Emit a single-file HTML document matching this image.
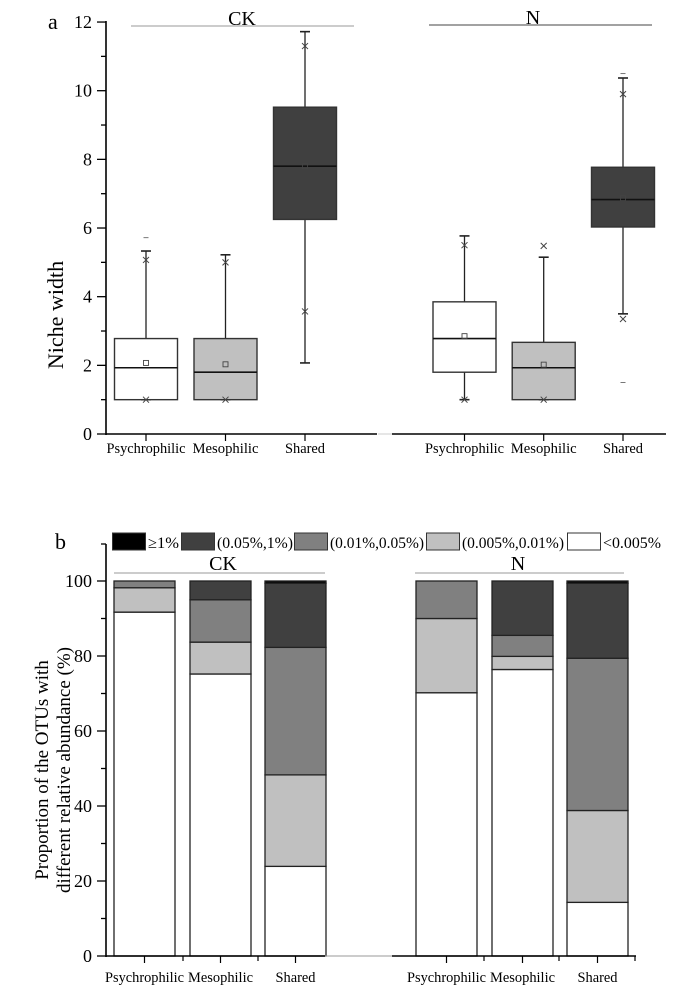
<!DOCTYPE html>
<html><head><meta charset="utf-8"><style>
html,body{margin:0;padding:0;background:#fff;}
svg{display:block;font-family:"Liberation Serif",serif;}
</style></head><body>
<svg id="chart" width="676" height="993" viewBox="0 0 676 993" xmlns="http://www.w3.org/2000/svg"></svg>
<script>
// ---------- Panel a: box plot data ----------
const boxCategories = ["Psychrophilic","Mesophilic","Shared","Psychrophilic","Mesophilic","Shared"];
const boxQ1 = [1.0, 1.0, 6.25, 1.8, 1.0, 6.03];
const boxMedian = [1.93, 1.8, 7.8, 2.78, 1.93, 6.83];
const boxQ3 = [2.78, 2.78, 9.52, 3.85, 2.67, 7.77];
const boxMean = [2.07, 2.03, 7.8, 2.85, 2.02, 6.87];
const boxWhiskLow = [1.0, 1.0, 2.07, 1.0, 1.0, 3.5];
const boxWhiskHigh = [5.33, 5.22, 11.72, 5.77, 5.15, 10.37];
const boxP99 = [5.07, 5.0, 11.3, 5.5, 5.48, 9.9];
const boxP1 = [1.0, 1.0, 3.57, 1.0, 1.0, 3.35];
const boxMax = [5.72, null, null, null, null, 10.5];
const boxMin = [null, null, null, null, null, 1.5];
const boxFills = ["#ffffff","#c0c0c0","#404040","#ffffff","#c0c0c0","#404040"];
const boxYTicks = [0,2,4,6,8,10,12];

// ---------- Panel b: stacked bar data ----------
const barCategories = ["Psychrophilic","Mesophilic","Shared","Psychrophilic","Mesophilic","Shared"];
const seriesNames = ["<0.005%","(0.005%,0.01%)","(0.01%,0.05%)","(0.05%,1%)","≥1%"];
const sLt0005 = [91.7, 75.2, 23.9, 70.2, 76.4, 14.3];
const s0005_001 = [6.5, 8.5, 24.4, 19.8, 3.5, 24.5];
const s001_005 = [1.8, 11.3, 34.0, 10.0, 5.6, 40.6];
const s005_1 = [0, 5.0, 17.1, 0, 14.5, 20.0];
const sGe1 = [0, 0, 0.6, 0, 0, 0.6];
const barYTicks = [0,20,40,60,80,100];

const svg = document.getElementById('chart');
const NS = "http://www.w3.org/2000/svg";
function mk(tag, attrs, parent){
  const e = document.createElementNS(NS, tag);
  for (const k in attrs) e.setAttribute(k, attrs[k]);
  (parent||svg).appendChild(e);
  return e;
}
function txt(s, attrs, parent){ const e = mk('text', attrs, parent); e.textContent = s; return e; }

// ===== Panel a =====
const ga = mk('g', {});


const ay = v => 434 - v * 34.33;
const boxX = [146, 225.5, 305, 464.5, 543.7, 623];
const bw = 63;

let t = txt('a', {x:48, y:29, 'font-size':22}, ga);
 
t = txt('Niche width', {x:0,y:0,'font-size':22,'text-anchor':'middle',transform:'translate(63,315) rotate(-90)'}, ga);
 

t = txt('CK', {x:242, y:25, 'font-size':20, 'text-anchor':'middle'}, ga);
 
mk('line',{x1:131,y1:26,x2:354,y2:26,stroke:'#999','stroke-width':1},ga);
t = txt('N', {x:533, y:24, 'font-size':20, 'text-anchor':'middle'}, ga);
 
mk('line',{x1:429,y1:25,x2:652,y2:25,stroke:'#444','stroke-width':1},ga);

const axA = mk('g',{},ga);
 
mk('line',{x1:106,y1:ay(12)-1,x2:106,y2:ay(0)+1,stroke:'#000','stroke-width':1.6},axA);
for (let v=0; v<=12; v++){
  const major = v%2===0;
  mk('line',{x1:major?97:101,y1:ay(v),x2:106,y2:ay(v),stroke:'#000','stroke-width':1.3},axA);
}
boxYTicks.forEach(v=>{
  const e = txt(String(v),{x:92,y:ay(v)+6,'font-size':18,'text-anchor':'end'},axA);
   
});
const xaA = mk('g',{},ga);
 
mk('line',{x1:106,y1:ay(0),x2:377,y2:ay(0),stroke:'#000','stroke-width':1.6},xaA);
mk('line',{x1:378,y1:ay(0),x2:392,y2:ay(0),stroke:'#ccc','stroke-width':1},xaA);
mk('line',{x1:392,y1:ay(0),x2:666,y2:ay(0),stroke:'#000','stroke-width':1.6},xaA);

boxCategories.forEach((c,i)=>{
  const cx = boxX[i];
  const g = mk('g',{},ga);
  
  
  mk('line',{x1:cx,y1:ay(0),x2:cx,y2:ay(0)+7,stroke:'#000','stroke-width':1.2},g);
  mk('line',{x1:cx,y1:ay(boxWhiskHigh[i]),x2:cx,y2:ay(boxQ3[i]),stroke:'#222','stroke-width':1.3},g);
  mk('line',{x1:cx,y1:ay(boxQ1[i]),x2:cx,y2:ay(boxWhiskLow[i]),stroke:'#222','stroke-width':1.3},g);
  mk('line',{x1:cx-5,y1:ay(boxWhiskHigh[i]),x2:cx+5,y2:ay(boxWhiskHigh[i]),stroke:'#222','stroke-width':1.6},g);
  mk('line',{x1:cx-5,y1:ay(boxWhiskLow[i]),x2:cx+5,y2:ay(boxWhiskLow[i]),stroke:'#222','stroke-width':1.6},g);
  mk('rect',{x:cx-bw/2,y:ay(boxQ3[i]),width:bw,height:ay(boxQ1[i])-ay(boxQ3[i]),fill:boxFills[i],stroke:'#333','stroke-width':1.4},g);
  mk('line',{x1:cx-bw/2,y1:ay(boxMedian[i]),x2:cx+bw/2,y2:ay(boxMedian[i]),stroke:'#111','stroke-width':1.6},g);
  mk('rect',{x:cx-2.5,y:ay(boxMean[i])-2.5,width:5,height:5,fill:'none',stroke:'#444','stroke-width':0.9},g);
  [boxP99[i],boxP1[i]].forEach(v=>{
    const y=ay(v);
    mk('path',{d:`M${cx-3} ${y-3}L${cx+3} ${y+3}M${cx+3} ${y-3}L${cx-3} ${y+3}`,stroke:'#444','stroke-width':1},g);
  });
  [boxMax[i],boxMin[i]].forEach(v=>{
    if(v===null) return;
    mk('line',{x1:cx-2.5,y1:ay(v),x2:cx+2.5,y2:ay(v),stroke:'#777','stroke-width':1},g);
  });
  const l = txt(c,{x:cx,y:453,'font-size':15,'text-anchor':'middle',textLength:c==='Psychrophilic'?79:(c==='Mesophilic'?66:40),lengthAdjust:'spacingAndGlyphs'},g);
   
});

// ===== Panel b =====
const gb = mk('g',{});


const by = v => 956 - v*3.75;
const barX = [114, 190, 265, 416, 492, 567];
const barW = 61;
const seriesVals = [sLt0005, s0005_001, s001_005, s005_1, sGe1];
const seriesFills = ["#ffffff","#c0c0c0","#808080","#404040","#000000"];

t = txt('b',{x:55,y:549,'font-size':22},gb);
 
const yt = mk('text',{x:0,y:0,'font-size':19,'text-anchor':'middle',transform:'translate(0,770) rotate(-90)'},gb);
 
const ts1 = mk('tspan',{x:0,y:48},yt); ts1.textContent='Proportion of the OTUs with';
const ts2 = mk('tspan',{x:0,y:70},yt); ts2.textContent='different relative abundance (%)';

const legX = [112, 181, 294, 426, 567];
const legTextW = [31, 76, 94, 102, 58];
const legOrder = [4,3,2,1,0];
const lg = mk('g',{},gb);
 
legOrder.forEach((si,k)=>{
  const e = mk('g',{},lg);
   
  mk('rect',{x:legX[k]+0.5,y:533,width:33,height:17,fill:seriesFills[si],stroke:'#333','stroke-width':1},e);
  txt(seriesNames[si],{x:legX[k]+36,y:548,'font-size':16,textLength:legTextW[k],lengthAdjust:'spacingAndGlyphs'},e);
});

t = txt('CK',{x:223,y:570,'font-size':20,'text-anchor':'middle'},gb);
 
mk('line',{x1:114,y1:573,x2:325,y2:573,stroke:'#999','stroke-width':1},gb);
t = txt('N',{x:518,y:570,'font-size':20,'text-anchor':'middle'},gb);
 
mk('line',{x1:415,y1:573,x2:624,y2:573,stroke:'#999','stroke-width':1},gb);

const axB = mk('g',{},gb);
 
mk('line',{x1:106,y1:544,x2:106,y2:957,stroke:'#000','stroke-width':1.6},axB);
mk('line',{x1:101,y1:544,x2:106,y2:544,stroke:'#000','stroke-width':1.3},axB);
for (let v=0; v<=100; v+=10){
  const major = v%20===0;
  mk('line',{x1:major?97:101,y1:by(v),x2:106,y2:by(v),stroke:'#000','stroke-width':1.3},axB);
}
barYTicks.forEach(v=>{
  const e = txt(String(v),{x:92,y:by(v)+6,'font-size':18,'text-anchor':'end'},axB);
   
});

barCategories.forEach((c,i)=>{
  const g = mk('g',{},gb);
  
  
  let cum = 0;
  seriesVals.forEach((arr,si)=>{
    const v = arr[i];
    if (v<=0) return;
    mk('rect',{x:barX[i],y:by(cum+v),width:barW,height:by(cum)-by(cum+v),fill:seriesFills[si],stroke:'#222','stroke-width':1.3},g);
    cum += v;
  });
});

const xaB = mk('g',{},gb);
 
mk('line',{x1:106,y1:956,x2:325,y2:956,stroke:'#000','stroke-width':1.6},xaB);
mk('line',{x1:325,y1:956,x2:392,y2:956,stroke:'#999','stroke-width':1},xaB);
mk('line',{x1:392,y1:956,x2:636,y2:956,stroke:'#000','stroke-width':1.6},xaB);
[183,258,484,559,635].forEach(x=>mk('line',{x1:x,y1:956,x2:x,y2:961,stroke:'#000','stroke-width':1.2},xaB));
barCategories.forEach((c,i)=>{
  const cx = barX[i]+barW/2;
  mk('line',{x1:cx,y1:956,x2:cx,y2:963,stroke:'#000','stroke-width':1.2},xaB);
  const l = txt(c,{x:cx,y:982,'font-size':15,'text-anchor':'middle',textLength:c==='Psychrophilic'?79:(c==='Mesophilic'?65:40),lengthAdjust:'spacingAndGlyphs'},xaB);
   
});
</script>
</body></html>
